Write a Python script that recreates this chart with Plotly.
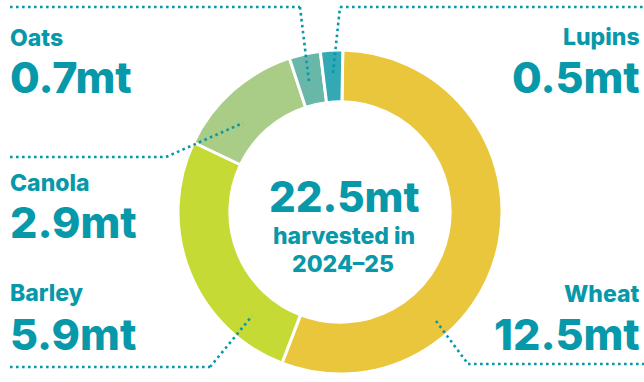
import plotly.graph_objects as go

W, H = 644, 382

crops = ["Wheat", "Barley", "Canola", "Oats", "Lupins"]
harvest_mt = [12.5, 5.9, 2.9, 0.7, 0.5]
crop_colors = ["#E9C63B", "#C6DA35", "#A9CC87", "#68B7A8", "#32A9B5"]
total_label = "22.5mt"
sub_lines = ["harvested in", "2024–25"]

TEAL = "#0798A9"
FONT = "Inter, Arial, sans-serif"

# donut geometry (pixels)
cx, cy, r = 340, 212, 162

def px(x):
    return x / W

def py(y):
    return 1 - y / H

fig = go.Figure(go.Pie(
    labels=crops,
    values=harvest_mt,
    hole=0.68,
    sort=False,
    direction="clockwise",
    rotation=1,
    marker=dict(colors=crop_colors, line=dict(color="white", width=3)),
    textinfo="none",
    hoverinfo="label+value",
    showlegend=False,
    domain=dict(x=[px(cx - r), px(cx + r)], y=[py(cy + r), py(cy - r)]),
))

# leader lines (pixel polylines)
leaders = [
    [(10, 7), (300, 7), (309, 82)],            # Oats
    [(333, 73), (340, 7), (644, 7)],           # Lupins
    [(10, 157), (166, 157), (243, 123)],       # Canola
    [(10, 367), (210, 367), (252, 316)],       # Barley
    [(436, 321), (468, 364), (644, 364)],      # Wheat
]
for pts in leaders:
    for (x0, y0), (x1, y1) in zip(pts[:-1], pts[1:]):
        fig.add_shape(type="line", xref="paper", yref="paper",
                      x0=px(x0), y0=py(y0), x1=px(x1), y1=py(y1),
                      line=dict(color=TEAL, width=2.6, dash="2.6px,3.4px"))

# labels: (x, anchor, name_y, value_y)
label_pos = {
    "Oats": (8, "left", 37, 75),
    "Lupins": (642, "right", 36, 75),
    "Canola": (8, "left", 182, 220),
    "Barley": (8, "left", 292, 332),
    "Wheat": (642, "right", 293, 332),
}

def ann(text, x, y, size, anchor):
    fig.add_annotation(text=text, xref="paper", yref="paper",
                       x=px(x), y=py(y), xanchor=anchor, yanchor="middle",
                       showarrow=False,
                       font=dict(family=FONT, size=size, color=TEAL, weight=800))

for name, val in zip(crops, harvest_mt):
    x, anchor, ny, vy = label_pos[name]
    ann(name, x, ny + 1, 23, anchor)
    ann(f"{val}mt", x, vy + 2, 43, anchor)

ann(total_label, 344, 197, 42, "center")
ann(sub_lines[0], 344, 236, 23, "center")
ann(sub_lines[1], 343, 264, 23, "center")

fig.update_layout(
    width=W, height=H,
    margin=dict(l=0, r=0, t=0, b=0),
    paper_bgcolor="white", plot_bgcolor="white",
)

fig.write_html("out.html")
